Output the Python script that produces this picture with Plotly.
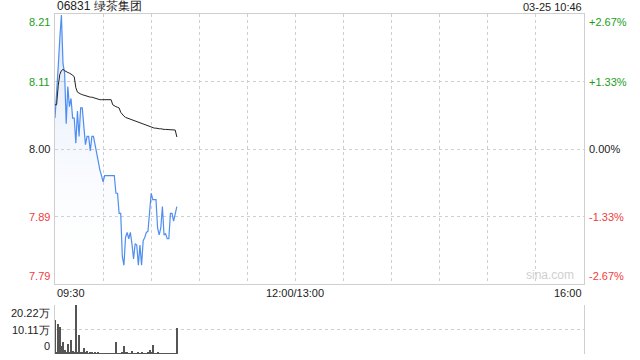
import plotly.graph_objects as go

# ---------------- data ----------------
title_text = "06831 绿茶集团"
stamp_text = "03-25 10:46"
prev_close = 8.00
max_pct = 2.67

price = [8.049, 8.085, 8.13, 8.175, 8.212, 8.135, 8.12, 8.04, 8.099, 8.067,
         8.08, 8.049, 8.049, 8.009, 8.06, 8.02, 8.065, 8.065, 8.04, 8.007,
         8.02, 8.02, 7.997, 8.02, 8.02, 8.007, 7.99, 7.983, 7.967, 7.958,
         7.948, 7.958, 7.958, 7.958, 7.958, 7.958, 7.958, 7.958, 7.93, 7.93,
         7.898, 7.898, 7.83, 7.816, 7.86, 7.868, 7.858, 7.868, 7.85, 7.826,
         7.85, 7.848, 7.816, 7.848, 7.816, 7.855, 7.86, 7.868, 7.87, 7.909,
         7.93, 7.92, 7.92, 7.92, 7.875, 7.864, 7.875, 7.909, 7.864, 7.866,
         7.858, 7.858, 7.898, 7.898, 7.886, 7.898, 7.909]

avg_price = [8.070, 8.070, 8.100, 8.118, 8.124, 8.126, 8.124, 8.122, 8.121, 8.120,
             8.119, 8.117, 8.114, 8.097, 8.090, 8.088, 8.087, 8.086, 8.085, 8.084,
             8.083, 8.083, 8.082, 8.082, 8.081, 8.080, 8.079, 8.078, 8.078, 8.078,
             8.078, 8.078, 8.078, 8.078, 8.078, 8.078, 8.070, 8.068, 8.067, 8.066,
             8.065, 8.058, 8.054, 8.052, 8.050, 8.049, 8.048, 8.047, 8.046, 8.045,
             8.044, 8.043, 8.043, 8.042, 8.041, 8.040, 8.039, 8.038, 8.037, 8.036,
             8.035, 8.034, 8.033, 8.033, 8.032, 8.032, 8.032, 8.031, 8.031, 8.031,
             8.031, 8.030, 8.030, 8.030, 8.030, 8.030, 8.019]

volume = [140000, 8000, 125000, 110000, 33000, 48000, 15000, 10000, 42000, 8000,
          58000, 12000, 5000, 202200, 10000, 78000, 6000, 9000, 23000, 5000,
          12000, 4000, 5000, 10000, 3000, 6000, 2000, 10000, 4000, 3000,
          2000, 1500, 2000, 1000, 2000, 1500, 2000, 3000, 51000, 4000,
          3000, 2500, 10000, 33000, 10000, 10000, 3000, 2000, 12000, 4000,
          2000, 3000, 8000, 3000, 6000, 2000, 2000, 3000, 6000, 16000,
          5000, 37000, 4000, 2000, 5000, 2000, 3000, 2000, 1500, 2000,
          1500, 2000, 2000, 1500, 2000, 2000, 107000]

minutes = list(range(len(price)))          # minutes since 09:30
session_minutes = 330                      # 09:30-12:00 + 13:00-16:00
x_tick_vals = [0, 150, 330]
x_tick_text = ["09:30", "12:00/13:00", "16:00"]

pct_ticks = [2.67, 1.335, 0.0, -1.335, -2.67]
price_tick_text = ["8.21", "8.11", "8.00", "7.89", "7.79"]
pct_tick_text = ["+2.67%", "+1.33%", "0.00%", "-1.33%", "-2.67%"]

vol_ticks = [202200, 101100, 0]
vol_tick_text = ["20.22万", "10.11万", "0"]

# ---------------- styling ----------------
GREEN = "#1a9e1a"
RED = "#f03c3c"
BLACK = "#222222"
GRID = "#cfcfcf"
FONT = "Liberation Sans, Arial, sans-serif"

price_ticks = [prev_close * (1 + p / 100) for p in pct_ticks]
y_hi, y_lo = price_ticks[0], price_ticks[-1]
tick_colors = [GREEN, GREEN, BLACK, RED, RED]

fig = go.Figure()

fig.add_trace(go.Scatter(
    x=minutes, y=price, mode="lines",
    line=dict(color="#4f8ef0", width=1.2),
    fill="tozeroy",
    fillgradient=dict(type="vertical", start=y_lo, stop=max(price),
                      colorscale=[[0, "rgba(255,255,255,0)"],
                                  [1, "rgba(120,165,235,0.30)"]]),
    hoverinfo="skip", showlegend=False, xaxis="x", yaxis="y"))

fig.add_trace(go.Scatter(
    x=minutes, y=avg_price, mode="lines",
    line=dict(color=BLACK, width=1),
    hoverinfo="skip", showlegend=False, xaxis="x", yaxis="y"))

fig.add_trace(go.Bar(
    x=minutes, y=volume, width=0.6,
    marker=dict(color="#555555", line=dict(width=0)),
    hoverinfo="skip", showlegend=False, xaxis="x2", yaxis="y2"))

main_bottom = (354 - 284) / 340
vol_top = (354 - 305) / 340

fig.update_layout(
    width=640, height=360,
    margin=dict(l=55, r=56, t=14, b=6),
    paper_bgcolor="white", plot_bgcolor="white",
    font=dict(family=FONT, size=11, color=BLACK),
    bargap=0,
    xaxis=dict(domain=[0, 1], range=[0, session_minutes], anchor="y",
               tickvals=list(range(0, session_minutes + 1, 30)),
               showticklabels=False, ticks="",
               showgrid=True, gridcolor=GRID, griddash="dot", gridwidth=1,
               showline=True, linecolor=GRID, linewidth=1, mirror=True,
               zeroline=False),
    yaxis=dict(domain=[main_bottom, 1], range=[y_lo, y_hi], anchor="x",
               tickvals=price_ticks[1:4], showticklabels=False, ticks="",
               showgrid=True, gridcolor=GRID, griddash="dot", gridwidth=1,
               showline=True, linecolor=GRID, linewidth=1, mirror=True,
               zeroline=False),
    xaxis2=dict(domain=[0, 1], range=[0, session_minutes], anchor="y2",
                showticklabels=False, ticks="", showgrid=False,
                showline=False, zeroline=False),
    yaxis2=dict(domain=[0, vol_top], range=[0, vol_ticks[0]], anchor="x2",
                tickvals=vol_ticks, showticklabels=False, ticks="",
                showgrid=True, gridcolor=GRID, griddash="dot", gridwidth=1,
                showline=True, linecolor=GRID, linewidth=1, mirror=True,
                zeroline=False),
)

annotations = []
# title and timestamp
annotations.append(dict(text=title_text, xref="paper", yref="paper", x=0, y=1,
                        xanchor="left", yanchor="bottom", showarrow=False,
                        font=dict(size=12, color=BLACK), yshift=-1))
annotations.append(dict(text=stamp_text, xref="paper", yref="paper", x=1, y=1,
                        xanchor="right", yanchor="bottom", showarrow=False,
                        font=dict(size=11, color=BLACK), yshift=-1))

# price and percent labels
n = len(price_ticks)
for i, (pv, lt, rt, c) in enumerate(zip(price_ticks, price_tick_text, pct_tick_text, tick_colors)):
    if i == 0:
        ya = "top"
    elif i == n - 1:
        ya = "bottom"
    else:
        ya = "middle"
    annotations.append(dict(text=lt, xref="paper", yref="y", x=0, y=pv,
                            xanchor="right", yanchor=ya, showarrow=False,
                            xshift=-3, font=dict(size=11, color=c)))
    annotations.append(dict(text=rt, xref="paper", yref="y", x=1, y=pv,
                            xanchor="left", yanchor=ya, showarrow=False,
                            xshift=3, font=dict(size=11, color=c)))

# time labels
for xv, tt, xa in zip(x_tick_vals, x_tick_text, ["left", "center", "right"]):
    annotations.append(dict(text=tt, xref="x", yref="paper", x=xv, y=main_bottom,
                            xanchor=xa, yanchor="top", showarrow=False, yshift=-1,
                            font=dict(size=11, color=BLACK)))

# volume labels
for i, (vv, vt) in enumerate(zip(vol_ticks, vol_tick_text)):
    ya = "top" if i == 0 else ("bottom" if i == len(vol_ticks) - 1 else "middle")
    annotations.append(dict(text=vt, xref="paper", yref="y2", x=0, y=vv,
                            xanchor="right", yanchor=ya, showarrow=False,
                            xshift=-3, font=dict(size=11, color=BLACK)))

# watermark
annotations.append(dict(text="sina.com", xref="paper", yref="paper", x=0.985, y=main_bottom,
                        xanchor="right", yanchor="bottom", showarrow=False,
                        font=dict(size=12, color="#d0d0d0")))

fig.update_layout(annotations=annotations)

fig.write_html("out.html")
